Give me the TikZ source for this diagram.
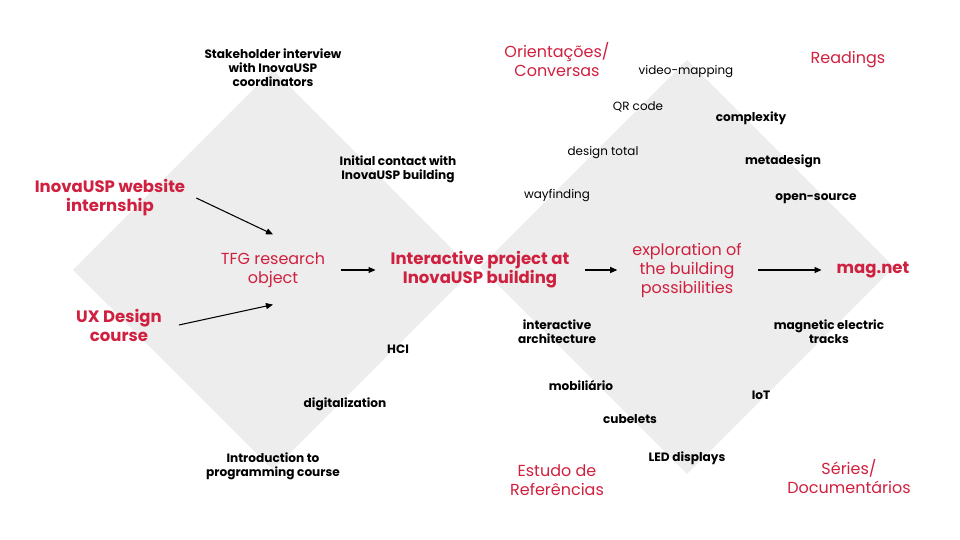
\documentclass[tikz,border=0pt]{standalone}
\usepackage{fontspec}
\setmainfont{Poppins}
\usetikzlibrary{arrows.meta,calc}
\definecolor{uspred}{HTML}{D0203F}
\definecolor{diamondgrey}{HTML}{EDEDED}
\tikzset{
    keyword/.style={font=\fontsize{6.9}{7.9}\selectfont\bfseries, align=center, inner sep=1pt},
    topic/.style={font=\fontsize{6.8}{7.9}\selectfont, align=center, inner sep=1pt},
    milestone/.style={text=uspred, font=\fontsize{9.4}{10.8}\selectfont\bfseries, align=center, inner sep=1pt},
    phase/.style={text=uspred, font=\fontsize{9.1}{10.8}\selectfont, align=center, inner sep=1pt},
    flow/.style={-{Triangle[length=4pt,width=3.4pt]}, line width=0.6pt},
}
\begin{document}
\begin{tikzpicture}[x=0.02cm, y=-0.02cm]
    \useasboundingbox (0,0) rectangle (960,540);
    % the two diamonds
    \fill [diamondgrey] (73,270) -- (273,70) -- (473,270) -- (273,470) -- cycle;
    \fill [diamondgrey] (480,267) -- (687,60) -- (894,267) -- (687,474) -- cycle;

    % left diamond
    \node [keyword] (stake) at (273,68) {Stakeholder interview\\with InovaUSP\\coordinators};
    \node [keyword] (contact) at (398,169) {Initial contact with\\InovaUSP building};
    \node [milestone] (web) at (110,198) {InovaUSP website\\internship};
    \node [phase] (tfg) at (273,270) {TFG research\\object};
    \node [milestone] (ux) at (119,325) {UX Design\\course};
    \node [keyword] (hci) at (398,349) {HCI};
    \node [keyword] (digital) at (345,404) {digitalization};
    \node [keyword] (intro) at (273,466) {Introduction to\\programming course};

    % centre
    \node [milestone] (project) at (480,270) {Interactive project at\\InovaUSP building};

    % right diamond
    \node [phase] (talks) at (557,60) {Orientações/\\Conversas};
    \node [phase] (readings) at (848,60) {Readings};
    \node [topic] (video) at (686,72) {video-mapping};
    \node [topic] (qr) at (638,107) {QR code};
    \node [keyword] (complex) at (751,118) {complexity};
    \node [topic] (total) at (603,153) {design total};
    \node [keyword] (meta) at (783,161) {metadesign};
    \node [topic] (way) at (557,196) {wayfinding};
    \node [keyword] (open) at (816,199) {open-source};
    \node [phase] (explore) at (687,270) {exploration of\\the building\\possibilities};
    \node [milestone] (magnet) at (873,270) {mag.net};
    \node [keyword] (archi) at (557,332) {interactive\\architecture};
    \node [keyword] (tracks) at (829,332) {magnetic electric\\tracks};
    \node [keyword] (mobil) at (581,386) {mobiliário};
    \node [keyword] (iot) at (761,395) {IoT};
    \node [keyword] (cube) at (630,419) {cubelets};
    \node [keyword] (led) at (687,458) {LED displays};
    \node [phase] (refs) at (557,480) {Estudo de\\Referências};
    \node [phase] (series) at (849,477) {Séries/\\Documentários};

    % arrows
    \draw [flow] ($(web.east)+(9,0)$) -- ($(tfg.north)+(0,-16)$);
    \draw [flow] ($(ux.east)+(15,0)$) -- ($(tfg.south)+(0,15)$);
    \draw [flow] ($(tfg.east)+(14,0)$) -- ($(project.west)+(-13,0)$);
    \draw [flow] ($(project.east)+(14,0)$) -- ($(explore.west)+(-13,0)$);
    \draw [flow] ($(explore.east)+(14,0)$) -- ($(magnet.west)+(-13,0)$);
\end{tikzpicture}
\end{document}
